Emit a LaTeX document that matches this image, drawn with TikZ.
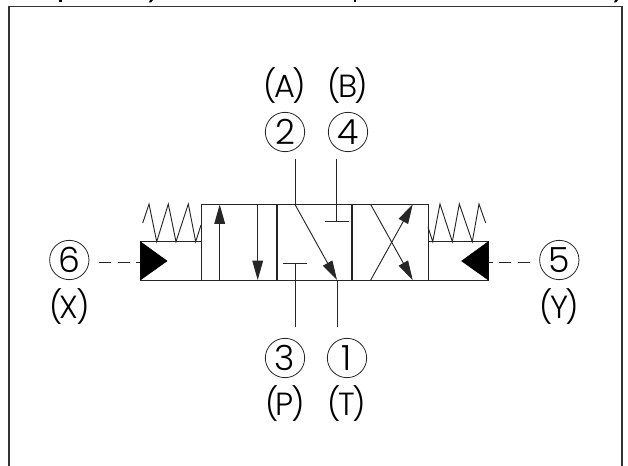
\documentclass[tikz,border=0pt]{standalone}
\usepackage{fontspec}
\setmainfont{Poppins Light}
\usetikzlibrary{arrows.meta}
\newcommand\plab[1]{(\kern-2pt#1\kern-2pt)}
\tikzset{
  line/.style={draw=black!85,line width=0.7pt,line join=miter},
  flow/.style={line,-{Triangle[length=14.5pt,width=8pt]}},
  port/.style={circle,draw=black!85,line width=0.6pt,minimum size=29.5pt,inner sep=0pt,font=\fontsize{26}{26}\selectfont},
  lab/.style={inner sep=0pt,font=\fontsize{24}{26}\selectfont},
  pilot/.style={draw=black,fill=black,line width=0.4pt},
  frame/.style={draw=black!80,line width=1pt}
}
\begin{document}
\begin{tikzpicture}[x=0.75pt,y=-0.75pt]
\useasboundingbox (0,0) rectangle (628,466);
% outer frame, open at bottom
\draw[frame] (9,466) -- (9,6.5) -- (622,6.5) -- (622,466);
% clipped title descenders
\fill (59,0) rectangle (62,2.5);
\fill (150,0) -- (153,0) -- (151,2.5) -- (149,2.5) -- cycle;
\fill (354,0) rectangle (356,2.5);
\fill (615,0) -- (618,0) -- (616,2.5) -- (614,2.5) -- cycle;
% valve body
\coordinate (bl) at (201,280);
\coordinate (tr) at (428,204.5);
\draw[line] (bl) rectangle (tr);
\draw[line,line width=0.8pt] (277,204.5) -- (277,280);
\draw[line,line width=0.8pt] (352,204.5) -- (352,280);
% left cell
\draw[flow] (219.7,280) -- (219.7,204.5);
\draw[flow] (257.7,204.5) -- (257.7,280);
% middle cell
\coordinate (a) at (295,204.5);
\coordinate (t) at (337,280);
\draw[flow] (a) -- (t);
\draw[line] (283,263) -- (307,263);
\draw[line] (325,221) -- (348.5,221);
% right cell
\draw[flow] (370.7,280) -- (412.7,204.5);
\draw[flow] (370.7,204.5) -- (412.7,280);
% actuators
\draw[line] (201,241.7) -- (140.3,241.7) -- (140.3,280) -- (201,280);
\draw[line] (428,241.7) -- (488.3,241.7) -- (488.3,280) -- (428,280);
\draw[pilot] (140.3,241.7) -- (167,261) -- (140.3,280) -- cycle;
\draw[pilot] (488.3,241.7) -- (461.7,261) -- (488.3,280) -- cycle;
% springs
\draw[line] (142.7,223) -- (149,204) -- (156.7,241.7) -- (168.3,204) -- (176,241.7) -- (188.3,204) -- (195.7,241.7) -- (201,225);
\draw[line] (428,227) -- (432.7,241.7) -- (440,204) -- (452.3,241.7) -- (459.3,204) -- (472.3,241.7) -- (479,204) -- (485.7,223);
% ports
\node[port] (p2) at (285,132) {2};
\node[port] (p4) at (348,132) {4};
\node[port] (p3) at (285,358) {3};
\node[port] (p1) at (347,358) {1};
\node[port] (p6) at (69.3,260) {6};
\node[port] (p5) at (559.3,260) {5};
\node[lab] (la) at (285,86) {\plab{A}};
\node[lab] (lb) at (348,86) {\plab{B}};
\node[lab] (lp) at (285,404) {\plab{P}};
\node[lab] (lt) at (347,404) {\plab{T}};
\node[lab] (lx) at (69.3,307) {\plab{X}};
\node[lab] (ly) at (559.3,307) {\plab{Y}};
% port stubs
\coordinate (s2) at (295,159);
\coordinate (s4) at (336.7,159);
\coordinate (s3) at (295,327);
\coordinate (s1) at (337,327);
\draw[line] (s2) -- (a);
\draw[line] (s4) -- (336.7,221);
\draw[line] (295,263) -- (s3);
\draw[line] (t) -- (s1);
% pilot lines
\draw[line,dash pattern=on 9pt off 5pt] (99,262.5) -- (140.3,262.5);
\draw[line,dash pattern=on 9pt off 5pt] (530,262.5) -- (488.3,262.5);
\end{tikzpicture}
\end{document}
